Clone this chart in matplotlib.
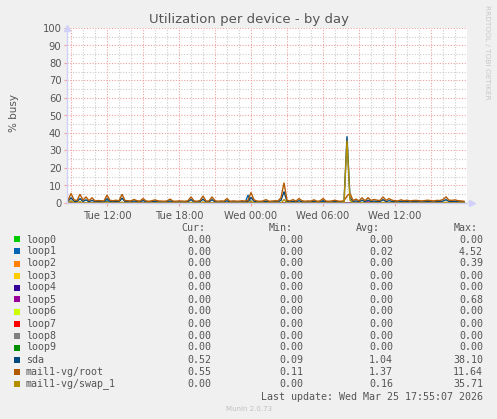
import matplotlib
matplotlib.use("Agg")
import matplotlib.pyplot as plt
from matplotlib.ticker import MultipleLocator, FixedLocator
import numpy as np

W, H = 497, 419

# ---- data (15-minute samples starting Tue 08:45) ----
start_offset_h = 0.0833  # first sample 08:45 relative to graph start 08:40
step_h = 0.25

root = [1.5, 5.5, 1.8, 1.4, 5.0, 1.6, 3.5, 1.3, 3.0, 1.2, 1.4, 1.3, 1.2, 4.5, 1.5, 1.3, 1.6, 1.2, 5.0, 1.4,
        1.3, 1.2, 2.0, 1.3, 1.1, 2.5, 1.2, 1.0, 1.3, 1.8, 1.2, 1.1, 1.0, 1.2, 2.2, 1.1, 1.0, 1.2, 1.1, 1.0,
        1.3, 3.5, 1.2, 1.0, 1.4, 4.0, 1.1, 1.2, 3.5, 1.3, 1.0, 1.2, 1.1, 2.5, 1.0, 1.2, 1.1, 1.0, 1.3, 1.1,
        1.5, 6.0, 1.8, 1.1, 1.0, 1.2, 1.9, 1.0, 1.1, 1.3, 1.2, 3.0, 11.6, 1.5, 1.2, 1.9, 1.1, 2.5, 1.3, 1.0,
        1.2, 1.1, 1.8, 1.0, 1.2, 2.5, 1.1, 1.0, 1.2, 1.6, 1.1, 1.0, 1.3, 4.0, 5.5, 1.4, 2.2, 1.2, 3.0, 1.3,
        3.0, 1.5, 2.0, 1.6, 1.4, 3.5, 1.5, 2.5, 1.6, 1.3, 1.2, 1.8, 1.3, 1.6, 1.2, 1.4, 1.5, 1.3, 1.2, 1.4,
        1.6, 1.3, 1.2, 1.5, 1.4, 2.0, 3.5, 1.6, 1.5, 1.8, 1.3, 1.2, 1.0]

sda = [0.9, 3.0, 1.0, 0.8, 2.5, 0.9, 1.8, 0.7, 1.5, 0.7, 0.8, 0.7, 0.6, 2.5, 0.8, 0.7, 0.9, 0.6, 2.8, 0.8,
       0.7, 0.6, 1.2, 0.7, 0.6, 1.4, 0.6, 0.5, 0.7, 1.0, 0.6, 0.6, 0.5, 0.6, 1.2, 0.6, 0.5, 0.6, 0.6, 0.5,
       0.7, 2.0, 0.6, 0.5, 0.8, 2.2, 0.6, 0.6, 1.9, 0.7, 0.5, 0.6, 0.6, 1.3, 0.5, 0.6, 0.6, 0.5, 0.7, 0.6,
       0.8, 3.2, 1.0, 0.6, 0.5, 0.6, 1.0, 0.5, 0.6, 0.7, 0.6, 1.6, 6.5, 0.8, 0.6, 1.0, 0.6, 1.3, 0.7, 0.5,
       0.6, 0.6, 1.0, 0.5, 0.6, 1.3, 0.6, 0.5, 0.6, 0.9, 0.6, 0.5, 0.7, 38.1, 3.0, 0.8, 1.2, 0.6, 1.6, 0.7,
       1.6, 0.8, 1.1, 0.9, 0.8, 1.9, 0.8, 1.3, 0.9, 0.7, 0.6, 1.0, 0.7, 0.9, 0.6, 0.8, 0.8, 0.7, 0.6, 0.8,
       0.9, 0.7, 0.6, 0.8, 0.8, 1.1, 1.9, 0.9, 0.8, 1.0, 0.7, 0.6, 0.5]

swap = [0.0, 1.2, 0.0, 0.0, 0.8, 0.0, 0.3, 0.0, 0.0, 0.0, 0.0, 0.0, 0.0, 0.6, 0.0, 0.0, 0.0, 0.0, 0.5, 0.0,
        0.0, 0.0, 0.0, 0.0, 0.0, 0.0, 0.0, 0.0, 0.0, 0.0, 0.0, 0.0, 0.0, 0.0, 0.0, 0.0, 0.0, 0.0, 0.0, 0.0,
        0.0, 0.4, 0.0, 0.0, 0.0, 0.5, 0.0, 0.0, 0.3, 0.0, 0.0, 0.0, 0.0, 0.0, 0.0, 0.0, 0.0, 0.0, 0.0, 0.0,
        0.0, 1.0, 0.0, 0.0, 0.0, 0.0, 0.0, 0.0, 0.0, 0.0, 0.0, 0.0, 2.0, 0.0, 0.0, 0.0, 0.0, 0.0, 0.0, 0.0,
        0.0, 0.0, 0.0, 0.0, 0.0, 0.0, 0.0, 0.0, 0.0, 0.0, 0.0, 0.0, 0.0, 35.7, 1.5, 0.0, 0.0, 0.0, 0.3, 0.0,
        0.0, 0.0, 0.0, 0.0, 0.0, 0.4, 0.0, 0.0, 0.0, 0.0, 0.0, 0.0, 0.0, 0.0, 0.0, 0.0, 0.0, 0.0, 0.0, 0.0,
        0.0, 0.0, 0.0, 0.0, 0.0, 0.0, 0.5, 0.0, 0.0, 0.0, 0.0, 0.0, 0.0]

n = len(root)
zeros = [0.0] * n
loop1 = list(zeros); loop1[60] = 4.52; loop1[13] = 1.2; loop1[85] = 0.9
loop2 = list(zeros); loop2[45] = 0.39
loop5 = list(zeros); loop5[100] = 0.68

names = ["loop0", "loop1", "loop2", "loop3", "loop4", "loop5", "loop6", "loop7",
         "loop8", "loop9", "sda", "mail1-vg/root", "mail1-vg/swap_1"]
colors = ["#00CC00", "#0066B3", "#FF8000", "#FFCC00", "#330099", "#990099", "#CCFF00",
          "#FF0000", "#808080", "#008F00", "#00487D", "#B35A00", "#B38F00"]
series = [zeros, loop1, loop2, zeros, zeros, loop5, zeros, zeros, zeros, zeros, sda, root, swap]

cur = ["0.00", "0.00", "0.00", "0.00", "0.00", "0.00", "0.00", "0.00", "0.00", "0.00", "0.52", "0.55", "0.00"]
mins = ["0.00", "0.00", "0.00", "0.00", "0.00", "0.00", "0.00", "0.00", "0.00", "0.00", "0.09", "0.11", "0.00"]
avgs = ["0.00", "0.02", "0.00", "0.00", "0.00", "0.00", "0.00", "0.00", "0.00", "0.00", "1.04", "1.37", "0.16"]
maxs = ["0.00", "4.52", "0.39", "0.00", "0.00", "0.68", "0.00", "0.00", "0.00", "0.00", "38.10", "11.64", "35.71"]

tick_hours = [3.333, 9.333, 15.333, 21.333, 27.333]
tick_labels = ["Tue 12:00", "Tue 18:00", "Wed 00:00", "Wed 06:00", "Wed 12:00"]
x_span = 33.333

# ---- figure ----
fig = plt.figure(figsize=(W / 100, H / 100), dpi=100, facecolor="#F0F0F0")

def fx(px):
    return px / W

def fy(py):
    return 1 - py / H

ax = fig.add_axes([fx(67), fy(203), 400 / W, 175 / H])
ax.set_facecolor("white")
ax.set_xlim(0, x_span)
ax.set_ylim(0, 100)

# grids
for h in np.arange(0.333, x_span, 1.0):
    major = abs(((h - 0.333) % 3)) < 0.01
    ax.axvline(h, color="#F0A0A0" if major else "#CCCCCC", lw=0.8, ls=(0, (1, 1.5)), zorder=0)
for v in range(5, 101, 5):
    ax.axhline(v, color="#F0A0A0" if v % 10 == 0 else "#CCCCCC", lw=0.8, ls=(0, (1, 1.5)), zorder=0)

x = start_offset_h + step_h * np.arange(n)
for s, c in zip(series, colors):
    ax.plot(x, s, color=c, lw=1.0, solid_joinstyle="miter")

ax.xaxis.set_major_locator(FixedLocator(tick_hours))
ax.set_xticklabels(tick_labels)
ax.yaxis.set_major_locator(MultipleLocator(10))

for sp in ["top", "right"]:
    ax.spines[sp].set_visible(False)
ax.spines["left"].set_color("#D0D0F8")
ax.spines["bottom"].set_color("#D0D0F8")
ax.spines["left"].set_linewidth(1)
ax.spines["bottom"].set_linewidth(1)
ax.tick_params(axis="both", which="both", length=2, color="#F0A0A0", labelcolor="#555555",
               labelsize=7.2, pad=2)
ax.tick_params(axis="x", which="major", pad=4)
ax.plot([0], [1.0], marker="^", color="#D0D0F8", ms=5, transform=ax.transAxes, clip_on=False)
ax.plot([1.0 + 5 / 400], [0], marker=">", color="#D0D0F8", ms=5, transform=ax.transAxes, clip_on=False)

# texts
fig.text(fx(249), fy(19), "Utilization per device - by day", ha="center", va="center",
         fontsize=9.5, color="#555555")
fig.text(fx(14), fy(113), "% busy", ha="center", va="center", rotation=90, fontsize=7.5, color="#555555")
fig.text(fx(487), fy(5), "RRDTOOL / TOBI OETIKER", ha="center", va="top", rotation=270,
         fontsize=5.3, color="#C8C8C8")

mono = "DejaVu Sans Mono"
fs = 7.2
tc = "#555555"
fig.text(fx(205), fy(228), "Cur:", ha="right", va="center", family=mono, fontsize=fs, color=tc)
fig.text(fx(293), fy(228), "Min:", ha="right", va="center", family=mono, fontsize=fs, color=tc)
fig.text(fx(380), fy(228), "Avg:", ha="right", va="center", family=mono, fontsize=fs, color=tc)
fig.text(fx(478), fy(228), "Max:", ha="right", va="center", family=mono, fontsize=fs, color=tc)

for i, (nm, c) in enumerate(zip(names, colors)):
    yy = 239.5 + 12 * i
    fig.patches.append(plt.Rectangle((fx(14), fy(yy + 3)), 6 / W, 6 / H, transform=fig.transFigure,
                                     facecolor=c, edgecolor="none"))
    fig.text(fx(26), fy(yy), nm, ha="left", va="center", family=mono, fontsize=fs, color=tc)
    fig.text(fx(211), fy(yy), cur[i], ha="right", va="center", family=mono, fontsize=fs, color=tc)
    fig.text(fx(303), fy(yy), mins[i], ha="right", va="center", family=mono, fontsize=fs, color=tc)
    fig.text(fx(393), fy(yy), avgs[i], ha="right", va="center", family=mono, fontsize=fs, color=tc)
    fig.text(fx(483), fy(yy), maxs[i], ha="right", va="center", family=mono, fontsize=fs, color=tc)

fig.text(fx(483), fy(396.5), "Last update: Wed Mar 25 17:55:07 2026", ha="right", va="center",
         family=mono, fontsize=fs, color=tc)
fig.text(fx(249), fy(409), "Munin 2.0.73", ha="center", va="center", fontsize=5, color="#C0C0C0")

fig.savefig("out.png", dpi=100, facecolor=fig.get_facecolor())
